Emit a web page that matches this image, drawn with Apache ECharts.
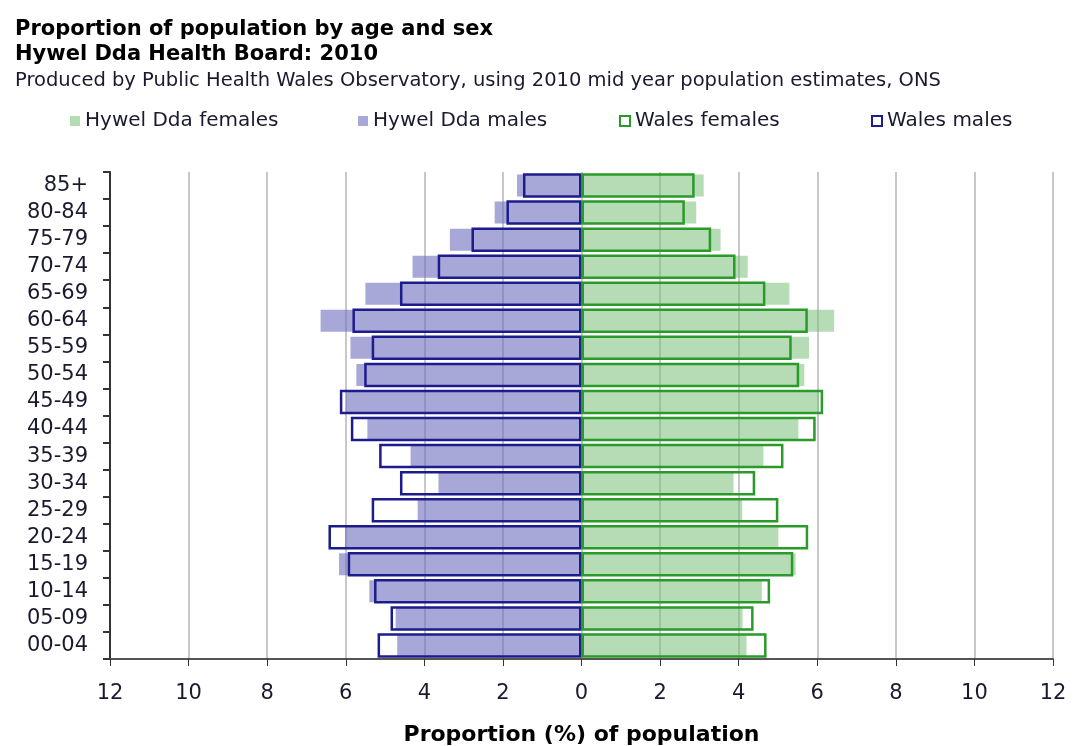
<!DOCTYPE html>
<html>
<head>
<meta charset="utf-8">
<script src="https://cdn.jsdelivr.net/npm/echarts@6/dist/echarts.min.js"></script>
<style>
html,body{margin:0;padding:0;background:#fff;}
#chart{width:1073px;height:746px;}
</style>
</head>
<body>
<div id="chart"></div>
<script>
const ageGroups = ['00-04','05-09','10-14','15-19','20-24','25-29','30-34','35-39','40-44','45-49','50-54','55-59','60-64','65-69','70-74','75-79','80-84','85+'];
const hdFemales = [4.20,4.10,4.59,5.45,5.01,4.09,3.87,4.63,5.52,6.05,5.67,5.79,6.43,5.29,4.23,3.54,2.92,3.11];
const hdMales   = [4.69,4.73,5.40,6.17,6.02,4.17,3.64,4.35,5.45,6.00,5.73,5.88,6.64,5.50,4.30,3.35,2.21,1.64];
const walesFemales = [4.71,4.38,4.80,5.39,5.77,5.01,4.42,5.14,5.96,6.15,5.54,5.35,5.76,4.68,3.92,3.30,2.63,2.88];
const walesMales   = [5.19,4.86,5.28,5.95,6.44,5.34,4.62,5.15,5.87,6.15,5.53,5.34,5.83,4.62,3.66,2.80,1.91,1.49];
const xTicks = [-12,-10,-8,-6,-4,-2,0,2,4,6,8,10,12];

const FONT = 'DejaVu Sans';
const TXT = '#1a1a2e';
const cHDF = 'rgba(120,192,120,0.55)';
const cHDM = 'rgba(110,110,190,0.6)';
const cWF = '#2a9a2a';
const cWM = '#1c1c8c';

const chart = echarts.init(document.getElementById('chart'), null, {renderer:'canvas'});
const neg = a => a.map(v => -v);

const legendBase = {top: 106, itemWidth: 10, itemHeight: 10, itemGap: 0,
  textStyle:{fontFamily:FONT, fontSize:20, color:TXT, padding:[0,0,0,0]}};

chart.setOption({
  animation:false,
  title:[
    {text:'Proportion of population by age and sex\nHywel Dda Health Board: 2010', left:10, top:12,
     textStyle:{fontFamily:FONT, fontSize:21, fontWeight:'bold', color:'#000', lineHeight:25}},
    {text:'Produced by Public Health Wales Observatory, using 2010 mid year population estimates, ONS', left:10, top:66,
     textStyle:{fontFamily:FONT, fontSize:19.5, fontWeight:'normal', color:TXT}}
  ],
  legend:[
    Object.assign({}, legendBase, {left:65, data:[{name:'Hywel Dda females', icon:'rect'}]}),
    Object.assign({}, legendBase, {left:353, data:[{name:'Hywel Dda males', icon:'rect'}]}),
    Object.assign({}, legendBase, {left:614, data:[{name:'Wales females', icon:'rect', itemStyle:{color:'#fff', borderColor:cWF, borderWidth:2}}]}),
    Object.assign({}, legendBase, {left:866, data:[{name:'Wales males', icon:'rect', itemStyle:{color:'#fff', borderColor:cWM, borderWidth:2}}]})
  ],
  grid:{left:110, right:20, top:172, bottom:87, containLabel:false, outerBoundsMode:'none'},
  xAxis:{
    type:'value', min:-12, max:12, interval:2,
    name:'Proportion (%) of population', nameLocation:'middle', nameGap:65,
    nameTextStyle:{fontFamily:FONT, fontSize:22, fontWeight:'bold', color:'#000'},
    axisLine:{show:true, lineStyle:{color:'#555', width:2}},
    axisTick:{show:true, length:7, lineStyle:{color:'#333'}},
    axisLabel:{fontFamily:FONT, fontSize:21, color:TXT, margin:24,
      formatter: v => String(Math.abs(v))},
    splitLine:{show:true, lineStyle:{color:'#c8c8c8', width:2}}
  },
  yAxis:[
    {type:'category', data:ageGroups,
     axisLine:{show:true, onZero:false, lineStyle:{color:'#333', width:2}},
     axisTick:{show:true, length:7, lineStyle:{color:'#333', width:2}},
     axisLabel:{fontFamily:FONT, fontSize:21, color:TXT, margin:22, interval:0},
     splitLine:{show:false}},
    {type:'category', data:ageGroups, show:false}
  ],
  series:[
    {name:'Hywel Dda females', type:'bar', stack:'hd', yAxisIndex:0, barWidth:22, data:hdFemales,
     itemStyle:{color:cHDF}},
    {name:'Hywel Dda males', type:'bar', stack:'hd', yAxisIndex:0, barWidth:22, data:neg(hdMales),
     itemStyle:{color:cHDM}},
    {name:'Wales males', type:'bar', stack:'w', yAxisIndex:1, barWidth:24.5, data:neg(walesMales),
     itemStyle:{color:'rgba(0,0,0,0)', borderColor:cWM, borderWidth:2.5}},
    {name:'Wales females', type:'bar', stack:'w', yAxisIndex:1, barWidth:24.5, data:walesFemales,
     itemStyle:{color:'rgba(0,0,0,0)', borderColor:cWF, borderWidth:2.5}}
  ]
});
</script>
</body>
</html>
